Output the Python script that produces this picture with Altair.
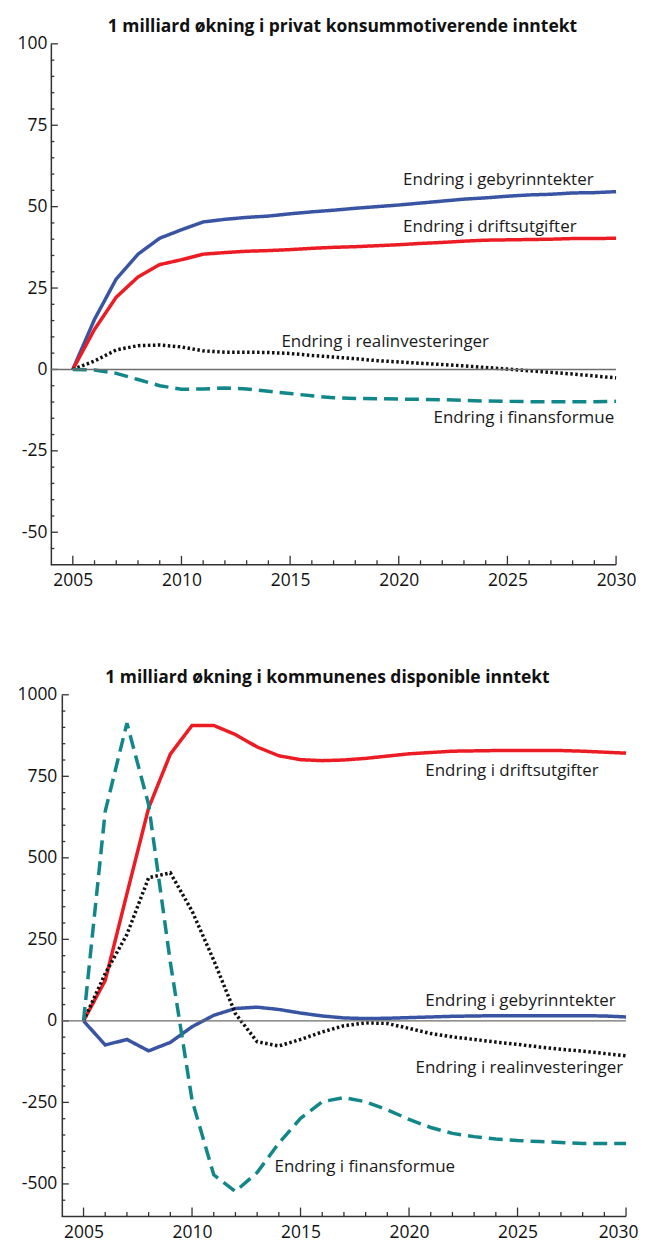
import altair as alt
import pandas as pd

years = list(range(2005, 2031))
series_names = ["Endring i gebyrinntekter", "Endring i driftsutgifter",
                "Endring i realinvesteringer", "Endring i finansformue"]
series_colors = ["#3a54a4", "#ec1c24", "#111111", "#12878a"]
series_dash = [[1, 0], [1, 0], [2.5, 2.5], [14, 7]]

# Panel 1: 1 milliard økning i privat konsummotiverende inntekt
p1_geb = [0, 15.4, 27.8, 35.4, 40.3, 42.9, 45.3, 46.1, 46.7, 47.1, 47.8, 48.4, 48.9,
          49.5, 50.0, 50.5, 51.1, 51.7, 52.3, 52.7, 53.2, 53.6, 53.8, 54.2, 54.3, 54.6]
p1_drift = [0, 12.3, 22.2, 28.4, 32.2, 33.7, 35.4, 35.9, 36.3, 36.5, 36.8, 37.2, 37.5,
            37.7, 38.0, 38.3, 38.7, 39.0, 39.4, 39.7, 39.8, 39.9, 40.0, 40.2, 40.2, 40.3]
p1_real = [0, 2.6, 6.0, 7.3, 7.5, 6.9, 5.7, 5.3, 5.3, 5.2, 4.9, 4.3, 3.8,
           3.3, 2.7, 2.3, 1.9, 1.5, 1.1, 0.6, 0.1, -0.4, -0.9, -1.4, -2.0, -2.6]
p1_fin = [0, -0.2, -1.2, -3.1, -5.0, -6.1, -6.0, -5.7, -6.0, -6.7, -7.4, -8.1, -8.7,
          -8.9, -9.0, -9.1, -9.2, -9.3, -9.5, -9.7, -9.8, -9.9, -9.9, -9.9, -9.9, -9.8]

# Panel 2: 1 milliard økning i kommunenes disponible inntekt
p2_geb = [0, -74, -57, -92, -66, -18, 17, 38, 42, 35, 24, 15, 9,
          7, 8, 10, 12, 14, 15, 16, 16, 16, 16, 16, 15, 12]
p2_drift = [0, 124, 390, 653, 818, 906, 906, 878, 840, 813, 801, 798, 800,
            805, 812, 819, 823, 827, 828, 829, 829, 829, 829, 827, 824, 821]
p2_real = [0, 145, 265, 439, 454, 337, 186, 22, -64, -77, -57, -34, -15,
           -6, -8, -23, -39, -49, -57, -65, -72, -80, -87, -93, -100, -107]
p2_fin = [0, 643, 913, 663, 180, -243, -472, -523, -465, -375, -299, -248, -235,
          -248, -273, -302, -327, -345, -355, -362, -367, -370, -373, -376, -376, -376]

# Annotation labels (x year, y value)
p1_label_x = [2020.2, 2020.2, 2014.6, 2021.6]
p1_label_y = [56.7, 42.3, 6.9, -16.5]
p2_label_x = [2020.75, 2020.75, 2020.3, 2013.8]
p2_label_y = [45, 750, -159, -464]

p1_title = "1 milliard økning i privat konsummotiverende inntekt"
p2_title = "1 milliard økning i kommunenes disponible inntekt"

x_major = [2005, 2010, 2015, 2020, 2025, 2030]
x_minor = [y for y in years if y not in x_major]
p1_y_major = [-50, -25, 0, 25, 50, 75, 100]
p1_y_minor = [v for v in range(-55, 100, 5) if v not in p1_y_major]
p2_y_major = [-500, -250, 0, 250, 500, 750, 1000]
p2_y_minor = [v for v in range(-550, 1000, 50) if v not in p2_y_major]

FONT = "Open Sans"
AXIS_COLOR = "#333333"


def panel(title, title_x, series, xdomain, ydomain, y_major, y_minor, lab_x, lab_y,
          width, height, ylab_pad, lead, last_label_shift):
    # lead: distance (px) of the y-axis line to the left of the plot origin
    rows = []
    for name, vals in zip(series_names, series):
        for yr, v in zip(years, vals):
            rows.append({"year": yr, "value": v, "series": name})
    df = pd.DataFrame(rows)
    xscale = alt.Scale(domain=xdomain, nice=False, zero=False)
    yscale = alt.Scale(domain=ydomain, nice=False, zero=False)
    x_axis = alt.Axis(values=x_major, labelExpr="toString(datum.value)",
                      title=None, grid=False, ticks=False, tickSize=0,
                      domain=False, labelFlush=False, labelPadding=7,
                      labelOffset={"condition": {"test": "datum.value == 2030",
                                                 "value": last_label_shift},
                                   "value": 0},
                      labelFontSize=17.5, labelFont=FONT, labelColor="#111111")
    y_axis = alt.Axis(values=y_major, labelExpr="toString(datum.value)",
                      title=None, grid=False, ticks=False, tickSize=0,
                      labelFlush=False, labelPadding=ylab_pad, labelFontSize=17.5,
                      labelFont=FONT, labelColor="#111111", offset=lead,
                      domainColor=AXIS_COLOR, domainWidth=1.5)

    def X(field):
        return alt.X(field, scale=xscale, axis=x_axis)

    def Y(field):
        return alt.Y(field, scale=yscale, axis=y_axis)

    lines = alt.Chart(df).mark_line(strokeWidth=3.5).encode(
        x=X("year:Q"),
        y=Y("value:Q"),
        color=alt.Color("series:N", scale=alt.Scale(domain=series_names,
                                                    range=series_colors),
                        legend=None),
        strokeDash=alt.StrokeDash("series:N",
                                  scale=alt.Scale(domain=series_names,
                                                  range=series_dash),
                                  legend=None),
        detail="series:N",
    )

    zero = alt.Chart(pd.DataFrame({"value": [0]})).mark_rule(
        color="#6d6d6d", strokeWidth=1.5).encode(
        y=Y("value:Q"), x=alt.value(-lead), x2=alt.value(width))

    xline = alt.Chart(pd.DataFrame({"value": [ydomain[0]]})).mark_rule(
        color=AXIS_COLOR, strokeWidth=1.5).encode(
        y=Y("value:Q"), x=alt.value(-lead), x2=alt.value(width))

    xmaj = alt.Chart(pd.DataFrame({"year": x_major})).mark_rule(
        color=AXIS_COLOR, strokeWidth=1.3).encode(
        x=X("year:Q"), y=alt.value(height), y2=alt.value(height - 9))
    xmin = alt.Chart(pd.DataFrame({"year": x_minor})).mark_rule(
        color=AXIS_COLOR, strokeWidth=1.3).encode(
        x=X("year:Q"), y=alt.value(height), y2=alt.value(height - 4.5))
    ymaj = alt.Chart(pd.DataFrame({"value": y_major})).mark_rule(
        color=AXIS_COLOR, strokeWidth=1.3).encode(
        y=Y("value:Q"), x=alt.value(-lead), x2=alt.value(-lead + 7))
    ymin = alt.Chart(pd.DataFrame({"value": y_minor})).mark_rule(
        color=AXIS_COLOR, strokeWidth=1.3).encode(
        y=Y("value:Q"), x=alt.value(-lead), x2=alt.value(-lead + 3.5))

    lab_df = pd.DataFrame({"text": series_names, "year": lab_x, "value": lab_y})
    labels = alt.Chart(lab_df).mark_text(
        align="left", baseline="alphabetic", fontSize=17, font=FONT,
        color="#1a1a1a").encode(
        x=X("year:Q"), y=Y("value:Q"), text="text:N")

    ttl = alt.Chart(pd.DataFrame({"t": [title]})).mark_text(
        align="center", baseline="alphabetic", fontSize=17.5, font=FONT,
        fontWeight="bold", color="#111111").encode(
        x=alt.value(title_x), y=alt.value(-11.5), text="t:N")

    return alt.layer(lines, xline, xmaj, xmin, ymaj, ymin, zero, labels,
                     ttl).properties(width=width, height=height)


# top panel: y-axis sits 11 px left of the shared plot origin
top = panel(p1_title, 281.5, [p1_geb, p1_drift, p1_real, p1_fin],
            [2004.495, 2030], [-60, 100], p1_y_major, p1_y_minor,
            p1_label_x, p1_label_y, 556, 522.6, 4, 11, 0)
bottom = panel(p2_title, 266.5, [p2_geb, p2_drift, p2_real, p2_fin],
               [2004, 2030], [-600, 1000], p2_y_major, p2_y_minor,
               p2_label_x, p2_label_y, 566, 523.4, 5, 0, -8)

chart = alt.vconcat(top, bottom, spacing=79).properties(
    background="white",
    padding={"left": 8, "top": 8, "right": 1, "bottom": 1},
).configure_view(stroke=None)

chart.save("out.html", embed_options={"renderer": "svg", "actions": False})
